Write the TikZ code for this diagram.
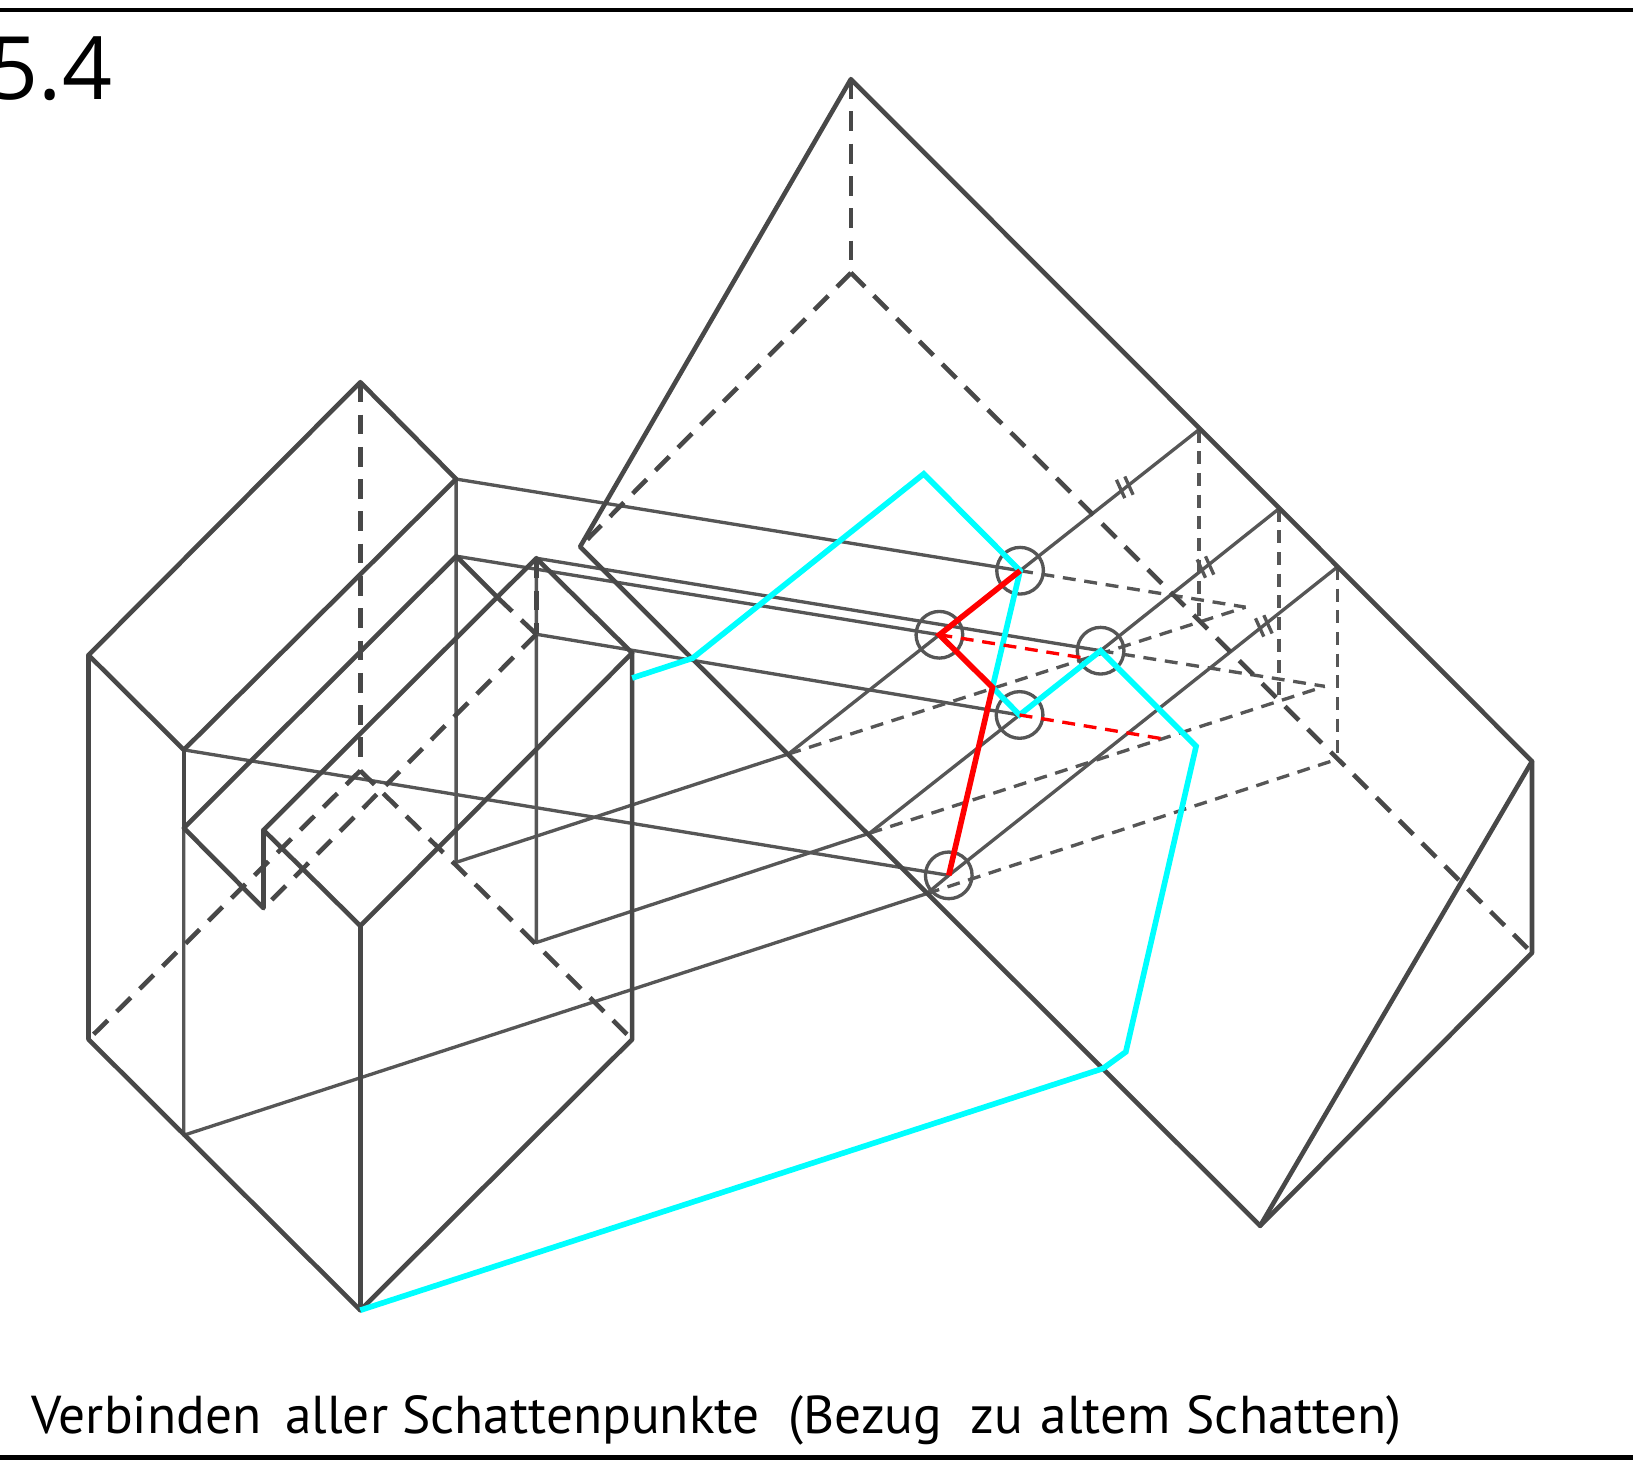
\documentclass[tikz,border=0pt]{standalone}
\usepackage{fontspec}
\setmainfont{Open Sans}
\newfontfamily\capfont{PT Sans}
\definecolor{heavy}{HTML}{484848}
\definecolor{thin}{HTML}{565656}
\definecolor{shadowline}{HTML}{00FFFF}
\definecolor{newshadow}{HTML}{FF0000}
\tikzset{
 hv/.style={draw=heavy,line width=2.2pt,line join=round,line cap=round},
 hvd/.style={draw=heavy,line width=2.2pt,line cap=butt,dash pattern=on 9.5pt off 6pt},
 md/.style={draw=thin,line width=1.6pt,line join=round},
 mdd/.style={draw=thin,line width=1.6pt,dash pattern=on 6.2pt off 4.2pt},
 cy/.style={draw=shadowline,line width=2.7pt,line join=miter},
 rd/.style={draw=newshadow,line width=2.7pt,line join=miter},
 rdd/.style={draw=newshadow,line width=1.6pt,dash pattern=on 6.2pt off 4.2pt},
 ring/.style={draw=thin,line width=1.6pt},
 rule/.style={draw=black,line width=2.2pt},
}
\begin{document}
\begin{tikzpicture}[x=0.5pt,y=-0.5pt]
\useasboundingbox (0,0) rectangle (1568,1419);
% left block
\coordinate (A) at (346,367); \coordinate (B) at (438,460);
\coordinate (C) at (85,629);  \coordinate (D) at (176.5,720);
\coordinate (E) at (85,998);  \coordinate (F) at (346,1258);
\coordinate (G) at (176.5,1090); \coordinate (H) at (176.5,795);
\coordinate (I) at (438,534); \coordinate (J) at (253,872);
\coordinate (K) at (253,797); \coordinate (L) at (515,536);
\coordinate (M) at (607,627); \coordinate (N) at (346,889);
\coordinate (O) at (607,998); \coordinate (P) at (515,609);
\coordinate (Q) at (346,740); \coordinate (I2) at (478,574);
\coordinate (Ib) at (438,828); \coordinate (Lb) at (515,905);
% right block
\coordinate (T) at (817,76); \coordinate (U) at (817,262);
\coordinate (W) at (557,525); \coordinate (X) at (1471,731);
\coordinate (Y) at (1471,915); \coordinate (Z) at (1210,1177);
% ray points
\coordinate (Ra) at (1151.3,412.5); \coordinate (Rb) at (1228,488.5); \coordinate (Rc) at (1284,544.5);
\coordinate (Va) at (1151.3,592); \coordinate (Vb) at (1228,669); \coordinate (Vc) at (1284,729);
\coordinate (Sa) at (757,724); \coordinate (Sb) at (835,800); \coordinate (Sc) at (890,858);
\coordinate (Ea) at (1196,583); \coordinate (Eb) at (1272,659);
% shadow points
\coordinate (pa) at (979.5,548); \coordinate (pb) at (902,609.5);
\coordinate (pc) at (1056.8,624.8); \coordinate (pd) at (979,686.5);
\coordinate (pe) at (911,840.5);
% cyan points
\coordinate (c1) at (1059,1026); \coordinate (c2) at (1081,1010);
\coordinate (c3) at (1148.5,716.5); \coordinate (c4) at (953,660);
\coordinate (c5) at (887,455); \coordinate (c6) at (665,632);
\coordinate (c7) at (607,651);
\coordinate (r1) at (1042,632); \coordinate (r2) at (1117,709.5);

% thin rays
\draw[md] (B) -- (I) -- (Ib) -- (Sa) -- (pb) -- (pa) -- (Ra);
\draw[md] (L) -- (Lb) -- (Sb) -- (pd) -- (pc) -- (Rb);
\draw[md] (H) -- (G) -- (Sc) -- (pe) -- (Rc);
\draw[md] (B) -- (pa);
\draw[md] (I) -- (pb);
\draw[md] (L) -- (pc);
\draw[md] (P) -- (pd);
\draw[md] (D) -- (pe);
\draw[mdd] (pa) -- (Ea);
\draw[mdd] (pc) -- (Eb);
\draw[mdd] (Sa) -- (Ea);
\draw[mdd] (Sb) -- (Eb);
\draw[mdd] (Sc) -- (Vc);
\draw[mdd] (Ra) -- (Va);
\draw[mdd] (Rb) -- (Vb);
\draw[mdd] (Rc) -- (Vc);
% double ticks
\foreach \cx/\cy in {1076/469.5,1084/466.3,1153.5/546,1161.5/543,1209.5/602.5,1217.5/599.5}
  \draw[md] (\cx-4,\cy-8.8) -- (\cx+4,\cy+8.8);
% hidden edges
\draw[hvd] (A) -- (Q);
\draw[hvd] (Q) -- (E);
\draw[hvd] (Q) -- (O);
\draw[hvd] (P) -- (J);
\draw[hvd] (I2) -- (P);
\draw[hvd] (L) -- (P);
\draw[hvd] (T) -- (U);
\draw[hvd] (U) -- (W);
\draw[hvd] (U) -- (Y);
% visible edges
\draw[hv] (C) -- (A) -- (B) -- (D) -- cycle;
\draw[hv] (D) -- (H);
\draw[hv] (C) -- (E) -- (F) -- (O) -- (M) -- (L) -- (K) -- (J) -- (H) -- (I) -- (I2);
\draw[hv] (K) -- (N) -- (M);
\draw[hv] (N) -- (F);
\draw[hv] (T) -- (W) -- (Z) -- (Y) -- (X) -- cycle;
\draw[hv] (X) -- (Z);
% rings
\foreach \p in {pa,pb,pc,pd,pe}
  \draw[ring] (\p) circle[radius=11.2pt];
% shadow outline
\draw[cy] (F) -- (c1) -- (c2) -- (c3) -- (pc) -- (pd) -- (c4) -- (pa) -- (c5) -- (c6) -- (c7);
\draw[rdd] (pb) -- (r1);
\draw[rdd] (pd) -- (r2);
\draw[rd] (pa) -- (pb) -- (c4) -- (pe);
% frame and text
\draw[rule] (0,9.6) -- (1568,9.6);
\draw[rule] (0,1399.7) -- (1568,1399.7);
\node[anchor=base east,inner sep=0pt,font=\fontsize{42}{44}\selectfont] (num) at (108,96) {5.4};
\node[anchor=base west,inner sep=0pt] (cap) at (30,1376) {\capfont\fontsize{25.6}{28}\selectfont Verbinden \hspace{4.75pt}aller Schattenpunkte \hspace{7.25pt}(Bezug \hspace{6.75pt}zu \hspace{1.75pt}altem \hspace{0.75pt}Schatten)};
\end{tikzpicture}
\end{document}
